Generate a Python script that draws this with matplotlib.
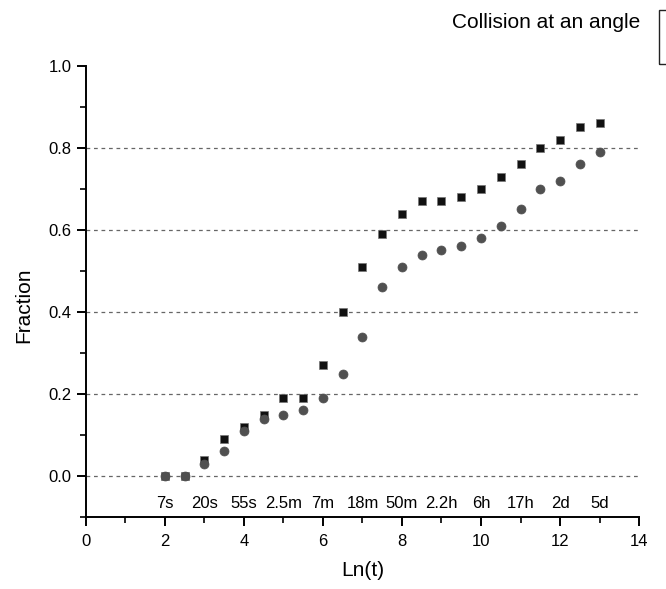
import matplotlib
matplotlib.use("Agg")
import matplotlib.pyplot as plt
from matplotlib.patches import Rectangle
from matplotlib.ticker import MultipleLocator

plt.rcParams["font.family"] = ["Liberation Sans", "DejaVu Sans"]

# Ln(t) sample points
ln_t = [2, 2.5, 3, 3.5, 4, 4.5, 5, 5.5, 6, 6.5, 7, 7.5, 8, 8.5, 9, 9.5,
        10, 10.5, 11, 11.5, 12, 12.5, 13]
frac_squares = [0.00, 0.00, 0.04, 0.09, 0.12, 0.15, 0.19, 0.19, 0.27, 0.40,
                0.51, 0.59, 0.64, 0.67, 0.67, 0.68, 0.70, 0.73, 0.76, 0.80,
                0.82, 0.85, 0.86]
frac_circles = [0.00, 0.00, 0.03, 0.06, 0.11, 0.14, 0.15, 0.16, 0.19, 0.25,
                0.34, 0.46, 0.51, 0.54, 0.55, 0.56, 0.58, 0.61, 0.65, 0.70,
                0.72, 0.76, 0.79]

# real-time labels written along the bottom of the plot
time_pos = [2, 3, 4, 5, 6, 7, 8, 9, 10, 11, 12, 13]
time_labels = ["7s", "20s", "55s", "2.5m", "7m", "18m", "50m", "2.2h",
               "6h", "17h", "2d", "5d"]
grid_levels = [0.0, 0.2, 0.4, 0.6, 0.8]

fig = plt.figure(figsize=(6.66, 5.89), dpi=100)
ax = fig.add_axes([0.129, 0.1222, 0.8305, 0.7658])

for g in grid_levels:
    ax.axhline(g, color="#666666", lw=0.9, ls=(0, (3, 3)), zorder=1)

ax.scatter(ln_t, frac_squares, marker="s", s=30, color="#111111",
           edgecolors="#777777", linewidths=0.5, zorder=3)
ax.scatter(ln_t, frac_circles, marker="o", s=42, color="#505050",
           edgecolors="#505050", linewidths=0.5, zorder=4)

for xp, lab in zip(time_pos, time_labels):
    ax.text(xp, -0.066, lab, ha="center", va="center", fontsize=12)

ax.set_xlim(0, 14)
ax.set_ylim(-0.1, 1.0)
ax.xaxis.set_major_locator(MultipleLocator(2))
ax.xaxis.set_minor_locator(MultipleLocator(1))
ax.yaxis.set_minor_locator(MultipleLocator(0.1))
ax.set_yticks([0.0, 0.2, 0.4, 0.6, 0.8, 1.0])
ax.set_yticklabels(["0.0", "0.2", "0.4", "0.6", "0.8", "1.0"])

for side in ["top", "right"]:
    ax.spines[side].set_visible(False)
for side in ["left", "bottom"]:
    ax.spines[side].set_linewidth(1.4)
ax.tick_params(which="major", direction="out", length=6.5, width=1.4,
               labelsize=12)
ax.tick_params(which="minor", direction="out", length=4, width=1.2)
ax.tick_params(axis="x", which="major", pad=6)
ax.tick_params(axis="y", which="major", pad=4)

ax.set_xlabel("Ln(t)", fontsize=15, va="center")
ax.set_ylabel("Fraction", fontsize=15, va="center")
ax.xaxis.set_label_coords(0.5, -0.1175)
ax.yaxis.set_label_coords(-0.112, 0.47)

# cut-off legend at the top right
fig.text(0.962, 0.962, "Collision at an angle", ha="right", va="center",
         fontsize=15)
fig.patches.append(Rectangle((0.989, 0.891), 0.05, 0.092, transform=fig.transFigure,
                             fill=False, lw=1.0, edgecolor="#222222"))

fig.savefig("out.png", dpi=100)
